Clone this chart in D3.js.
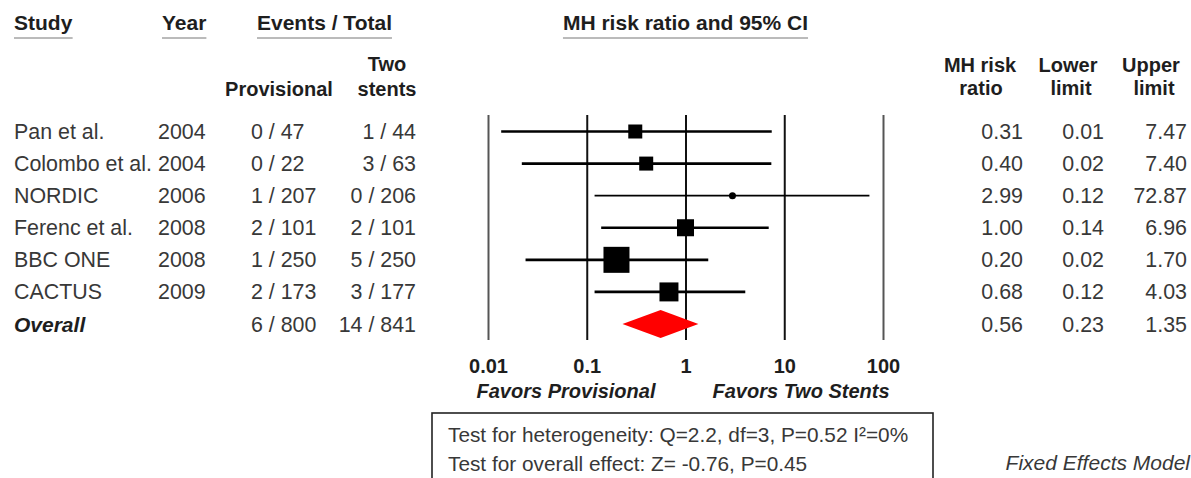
<!DOCTYPE html>
<html>
<head>
<meta charset="utf-8">
<script src="https://cdn.jsdelivr.net/npm/d3@7"></script>
<style>
  html, body { margin: 0; padding: 0; background: #fff; }
  svg { display: block; font-family: "Liberation Sans", Arial, sans-serif; }
</style>
</head>
<body>
<svg id="chart" width="1191" height="478"></svg>
<script>
// ---------------- data ----------------
const studies   = ["Pan et al.", "Colombo et al.", "NORDIC", "Ferenc et al.", "BBC ONE", "CACTUS"];
const years     = [2004, 2004, 2006, 2008, 2008, 2009];
const provEvents = [0, 0, 1, 2, 1, 2];
const provTotals = [47, 22, 207, 101, 250, 173];
const twoEvents  = [1, 3, 0, 2, 5, 3];
const twoTotals  = [44, 63, 206, 101, 250, 177];
const riskRatio  = [0.31, 0.40, 2.99, 1.00, 0.20, 0.68];
const lowerLimit = [0.0136, 0.022, 0.12, 0.14, 0.024, 0.12];
const upperLimit = [7.47, 7.40, 72.87, 6.96, 1.70, 4.03];
const weights    = [11.1, 11.1, 2.8, 16.4, 38.3, 20.4];   // relative weight (%)

const overallLabel = "Overall";
const overallProv  = [6, 800];
const overallTwo   = [14, 841];
const overallRR    = 0.56;
const overallLower = 0.23;
const overallUpper = 1.35;

const tickValues = [0.01, 0.1, 1, 10, 100];
const heterogeneityText = "Test for heterogeneity: Q=2.2, df=3, P=0.52 I\u00B2=0%";
const overallEffectText = "Test for overall effect: Z= -0.76, P=0.45";

// ---------------- layout ----------------
const svg = d3.select("#chart");
const rows = studies.concat([overallLabel]);
const y = d3.scalePoint().domain(rows).range([131.5, 324]);
const x = d3.scaleLog().domain([0.01, 100]).range([488, 883]);
const size = d3.scaleSqrt().domain([0, d3.max(weights)]).range([0, 26]);
const fmt = d3.format(".2f");

const gridTop = 115, gridBottom = 340;
const dark = "#1e1e1e", body = "#383838";
const rowFont = 21.4;

function underlined(sel, color) {
  sel.each(function () {
    const bb = this.getBBox();
    svg.append("line")
      .attr("x1", bb.x).attr("x2", bb.x + bb.width)
      .attr("y1", 38).attr("y2", 38)
      .attr("stroke", color || "#777").attr("stroke-width", 1);
  });
}

// ---------------- headers ----------------
const hdr = svg.append("g").attr("font-weight", "bold").attr("font-size", 21).attr("fill", dark);
underlined(hdr.append("text").attr("x", 14).attr("y", 30).text("Study"));
underlined(hdr.append("text").attr("x", 162).attr("y", 30).text("Year"));
underlined(hdr.append("text").attr("x", 257).attr("y", 30).text("Events / Total"));
underlined(hdr.append("text").attr("x", x(1)).attr("y", 30).attr("text-anchor", "middle").text("MH risk ratio and 95% CI"));

const sub = svg.append("g").attr("font-weight", "bold").attr("font-size", 20).attr("fill", dark).attr("text-anchor", "middle");
sub.append("text").attr("x", 387).attr("y", 71).text("Two");
sub.append("text").attr("x", 387).attr("y", 96).text("stents");
sub.append("text").attr("x", 279).attr("y", 96).text("Provisional");
sub.append("text").attr("x", 980).attr("y", 72).text("MH risk");
sub.append("text").attr("x", 981).attr("y", 95).text("ratio");
sub.append("text").attr("x", 1068).attr("y", 72).text("Lower");
sub.append("text").attr("x", 1071).attr("y", 95).text("limit");
sub.append("text").attr("x", 1151).attr("y", 72).text("Upper");
sub.append("text").attr("x", 1154).attr("y", 95).text("limit");

// ---------------- grid / axis ----------------
const axis = d3.axisBottom(x)
  .tickValues(tickValues)
  .tickFormat(d => String(d))
  .tickSizeInner(-(gridBottom - gridTop))
  .tickSizeOuter(0)
  .tickPadding(19);

const gAxis = svg.append("g").attr("transform", `translate(0,${gridBottom})`).call(axis);
gAxis.select(".domain").remove();
gAxis.selectAll(".tick line")
  .attr("stroke", (d, i) => (i === 0 || i === tickValues.length - 1) ? "#555" : "#111")
  .attr("stroke-width", 2);
gAxis.selectAll(".tick text")
  .attr("font-family", "Liberation Sans, Arial, sans-serif")
  .attr("font-size", 20).attr("font-weight", "bold").attr("fill", dark);

svg.append("text").attr("x", x(1) - 30).attr("y", 398)
  .attr("text-anchor", "end").attr("font-size", 20).attr("font-weight", "bold")
  .attr("font-style", "italic").attr("fill", dark).text("Favors Provisional");
svg.append("text").attr("x", x(1) + 27).attr("y", 398)
  .attr("text-anchor", "start").attr("font-size", 20).attr("font-weight", "bold")
  .attr("font-style", "italic").attr("fill", dark).text("Favors Two Stents");

// ---------------- study rows ----------------
const data = studies.map((s, i) => ({
  study: s, year: years[i],
  prov: `${provEvents[i]} / ${provTotals[i]}`,
  two: `${twoEvents[i]} / ${twoTotals[i]}`,
  rr: riskRatio[i], lo: lowerLimit[i], hi: upperLimit[i], w: weights[i]
}));

const rowG = svg.append("g").attr("font-size", rowFont).attr("fill", body);
const rg = rowG.selectAll("g.row").data(data).join("g").attr("class", "row")
  .attr("transform", d => `translate(0,${y(d.study) + 7.5})`);
rg.append("text").attr("x", 14).text(d => d.study);
rg.append("text").attr("x", 158).text(d => d.year);
rg.append("text").attr("x", 251).text(d => d.prov);
rg.append("text").attr("x", 416).attr("text-anchor", "end").text(d => d.two);
rg.append("text").attr("x", 1023).attr("text-anchor", "end").text(d => fmt(d.rr));
rg.append("text").attr("x", 1104).attr("text-anchor", "end").text(d => fmt(d.lo));
rg.append("text").attr("x", 1187).attr("text-anchor", "end").text(d => fmt(d.hi));

// CI lines and markers
const marks = svg.append("g");
marks.selectAll("line.ci").data(data).join("line").attr("class", "ci")
  .attr("x1", d => x(d.lo)).attr("x2", d => x(d.hi))
  .attr("y1", d => y(d.study)).attr("y2", d => y(d.study))
  .attr("stroke", "#000").attr("stroke-width", d => d.w < 5 ? 1.6 : 2.6);
marks.selectAll("rect.pt").data(data).join("rect").attr("class", "pt")
  .attr("x", d => x(d.rr) - size(d.w) / 2)
  .attr("y", d => y(d.study) - size(d.w) / 2)
  .attr("width", d => size(d.w)).attr("height", d => size(d.w))
  .attr("rx", d => size(d.w) < 10 ? size(d.w) / 2 : 0)
  .attr("fill", "#000");

// ---------------- overall row ----------------
const oy = y(overallLabel);
svg.append("text").attr("x", 14).attr("y", oy + 7.5).attr("font-size", 21)
  .attr("font-weight", "bold").attr("font-style", "italic").attr("fill", dark).text(overallLabel);
const og = svg.append("g").attr("font-size", rowFont).attr("fill", body).attr("transform", `translate(0,${oy + 7.5})`);
og.append("text").attr("x", 251).text(`${overallProv[0]} / ${overallProv[1]}`);
og.append("text").attr("x", 416).attr("text-anchor", "end").text(`${overallTwo[0]} / ${overallTwo[1]}`);
og.append("text").attr("x", 1023).attr("text-anchor", "end").text(fmt(overallRR));
og.append("text").attr("x", 1104).attr("text-anchor", "end").text(fmt(overallLower));
og.append("text").attr("x", 1187).attr("text-anchor", "end").text(fmt(overallUpper));

const dh = 14;
svg.append("path")
  .attr("d", d3.line()([
    [x(overallLower), oy], [x(overallRR), oy - dh],
    [x(overallUpper), oy], [x(overallRR), oy + dh]
  ]) + "Z")
  .attr("fill", "#ff0000");

// ---------------- statistics box ----------------
svg.append("rect").attr("x", 432).attr("y", 413).attr("width", 501).attr("height", 90)
  .attr("fill", "none").attr("stroke", "#222").attr("stroke-width", 1.6);
const box = svg.append("g").attr("font-size", 20.8).attr("fill", body);
box.append("text").attr("x", 448).attr("y", 442).text(heterogeneityText);
box.append("text").attr("x", 448).attr("y", 471).text(overallEffectText);

svg.append("text").attr("x", 1190).attr("y", 470).attr("text-anchor", "end")
  .attr("font-size", 21).attr("font-style", "italic").attr("fill", body).text("Fixed Effects Model");
</script>
</body>
</html>
